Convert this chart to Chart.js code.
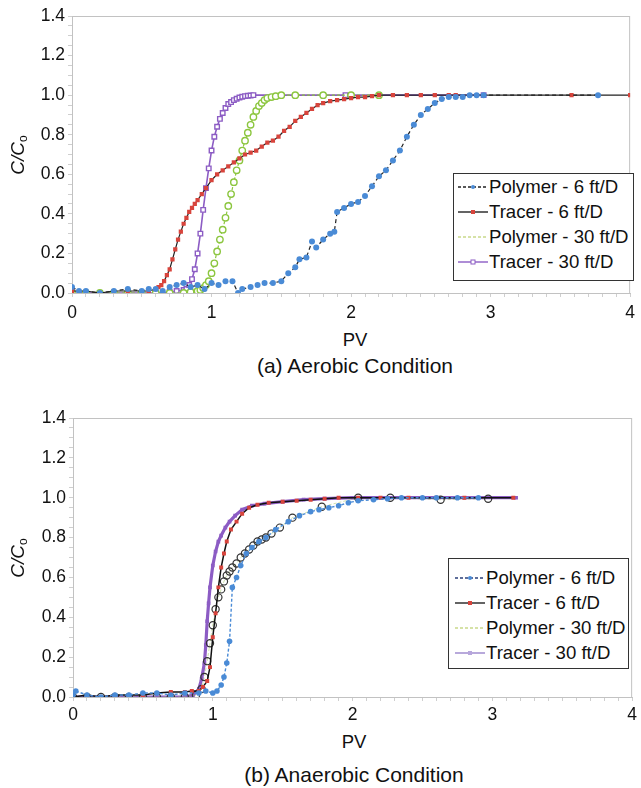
<!DOCTYPE html>
<html>
<head>
<meta charset="utf-8">
<script src="https://cdn.jsdelivr.net/npm/chart.js@4.4.0/dist/chart.umd.min.js"></script>
<style>
body { margin: 0; width: 641px; height: 788px; background: #fff; position: relative; overflow: hidden;
       font-family: "Liberation Sans", Arial, sans-serif; color: #111; }
canvas { position: absolute; left: 0; }
.txt { position: absolute; transform: translate(-50%, -50%); white-space: nowrap; }
.ytitle { position: absolute; transform: translate(-50%, -50%) rotate(-90deg); white-space: nowrap; font-size: 19px; font-style: italic; }
.ytitle sub { font-style: normal; font-size: 12px; vertical-align: -3px; }
.legend { position: absolute; border: 1.5px solid #333; background: #fff; font-size: 18.6px; box-sizing: border-box; }
.legend .row { height: 25px; display: flex; align-items: center; }
.legend svg { flex: none; margin-right: 1px; }
</style>
</head>
<body>
<canvas id="c1" width="641" height="325" style="top:0"></canvas>
<canvas id="c2" width="641" height="330" style="top:400px"></canvas>

<div class="ytitle" style="left:18px;top:155px">C/C<sub>o</sub></div>
<div class="txt" style="left:355px;top:340px;font-size:18.5px">PV</div>
<div class="txt" style="left:355px;top:366px;font-size:21px">(a) Aerobic Condition</div>
<div class="legend" id="leg1" style="left:453px;top:173px;width:181px;height:108px;padding:0 0 0 4px"></div>

<div class="ytitle" style="left:18px;top:558px">C/C<sub>o</sub></div>
<div class="txt" style="left:354px;top:742px;font-size:18.5px">PV</div>
<div class="txt" style="left:354px;top:775px;font-size:21px">(b) Anaerobic Condition</div>
<div class="legend" id="leg2" style="left:448px;top:558px;width:181px;height:111px;padding:6px 0 0 6px"></div>

<script>
// etiquetas y ejes
const seriesLabels = ['Polymer - 6 ft/D', 'Tracer - 6 ft/D', 'Polymer - 30 ft/D', 'Tracer - 30 ft/D'];
const xTickLabels = [0, 1, 2, 3, 4];
const yTickLabels = [0, 0.2, 0.4, 0.6, 0.8, 1.0, 1.2, 1.4];

// (a) aerobico
const aerPoly6X = [0, 0.05, 0.1, 0.2, 0.3, 0.4, 0.5, 0.55, 0.6, 0.65, 0.7, 0.75, 0.8, 0.85, 0.9, 0.95, 1.0, 1.05, 1.1, 1.15, 1.19, 1.22, 1.28, 1.33, 1.38, 1.44, 1.5, 1.55, 1.6, 1.63, 1.68, 1.72, 1.75, 1.8, 1.85, 1.88, 1.9, 1.95, 2.0, 2.05, 2.1, 2.15, 2.2, 2.25, 2.3, 2.35, 2.4, 2.45, 2.5, 2.55, 2.6, 2.65, 2.7, 2.75, 2.8, 2.85, 2.9, 2.95, 3.77];
const aerPoly6Y = [0.03, 0.01, 0.01, 0.0, 0.01, 0.02, 0.01, 0.02, 0.02, 0.01, 0.03, 0.04, 0.05, 0.03, 0.04, 0.02, 0.05, 0.04, 0.06, 0.06, 0.0, 0.02, 0.03, 0.04, 0.05, 0.05, 0.06, 0.1, 0.13, 0.17, 0.18, 0.26, 0.23, 0.27, 0.3, 0.31, 0.41, 0.43, 0.45, 0.46, 0.49, 0.54, 0.59, 0.62, 0.67, 0.72, 0.79, 0.85, 0.9, 0.93, 0.96, 0.98, 0.99, 0.99, 0.99, 1.0, 1.0, 1.0, 1.0];

const aerTrac6X = [0, 0.1, 0.2, 0.3, 0.4, 0.5, 0.55, 0.6, 0.62, 0.64, 0.66, 0.68, 0.7, 0.72, 0.74, 0.76, 0.78, 0.8, 0.82, 0.84, 0.86, 0.88, 0.9, 0.93, 0.96, 1.0, 1.04, 1.08, 1.12, 1.16, 1.2, 1.24, 1.28, 1.32, 1.36, 1.4, 1.44, 1.48, 1.52, 1.56, 1.6, 1.64, 1.68, 1.72, 1.76, 1.8, 1.85, 1.9, 1.95, 2.0, 2.05, 2.1, 2.15, 2.2, 2.3, 2.4, 2.5, 2.6, 2.7, 2.75, 3.58, 4.0];
const aerTrac6Y = [0.01, 0.01, 0.0, 0.01, 0.01, 0.01, 0.01, 0.02, 0.03, 0.04, 0.06, 0.09, 0.12, 0.17, 0.22, 0.27, 0.31, 0.35, 0.38, 0.41, 0.43, 0.45, 0.47, 0.5, 0.53, 0.57, 0.6, 0.62, 0.64, 0.66, 0.68, 0.7, 0.71, 0.72, 0.74, 0.76, 0.77, 0.79, 0.82, 0.84, 0.87, 0.89, 0.91, 0.93, 0.95, 0.96, 0.97, 0.975, 0.98, 0.985, 0.99, 0.99, 0.995, 1.0, 1.0, 1.0, 1.0, 1.0, 1.0, 1.0, 1.0, 1.0];

const aerPoly30X = [0, 0.1, 0.2, 0.3, 0.4, 0.5, 0.6, 0.7, 0.8, 0.85, 0.9, 0.92, 0.94, 0.96, 0.98, 1.0, 1.02, 1.04, 1.06, 1.08, 1.1, 1.12, 1.14, 1.16, 1.18, 1.2, 1.22, 1.24, 1.26, 1.28, 1.3, 1.32, 1.34, 1.36, 1.38, 1.4, 1.43, 1.46, 1.5, 1.6, 1.8, 2.0, 2.2];
const aerPoly30Y = [0.0, 0.0, 0.0, 0.0, 0.0, 0.0, 0.0, 0.0, 0.0, 0.005, 0.01, 0.015, 0.025, 0.04, 0.06, 0.1, 0.15, 0.21, 0.27, 0.32, 0.38, 0.44, 0.5, 0.56, 0.62, 0.67, 0.72, 0.77, 0.81, 0.85, 0.89, 0.92, 0.945, 0.96, 0.975, 0.985, 0.99, 0.995, 1.0, 1.0, 1.0, 1.0, 1.0];

const aerTrac30X = [0, 0.1, 0.2, 0.3, 0.4, 0.5, 0.6, 0.7, 0.75, 0.8, 0.82, 0.84, 0.86, 0.88, 0.9, 0.92, 0.94, 0.96, 0.98, 1.0, 1.02, 1.04, 1.06, 1.08, 1.1, 1.12, 1.14, 1.16, 1.18, 1.2, 1.22, 1.24, 1.26, 1.28, 1.3, 1.96, 2.95];
const aerTrac30Y = [0.01, 0.0, 0.0, 0.0, 0.0, 0.0, 0.0, 0.005, 0.01, 0.015, 0.02, 0.04, 0.07, 0.12, 0.2, 0.3, 0.42, 0.53, 0.63, 0.72, 0.79, 0.84, 0.88, 0.91, 0.935, 0.955, 0.965, 0.975, 0.982, 0.988, 0.992, 0.995, 0.997, 0.998, 1.0, 1.0, 1.0];

// (b) anaerobico
const anaPoly6X = [0, 0.02, 0.1, 0.2, 0.3, 0.4, 0.5, 0.6, 0.7, 0.8, 0.9, 0.95, 1.0, 1.03, 1.06, 1.08, 1.1, 1.12, 1.14, 1.17, 1.2, 1.24, 1.28, 1.33, 1.38, 1.45, 1.54, 1.62, 1.7, 1.76, 1.83, 1.9, 1.97, 2.04, 2.15, 2.25, 2.35, 2.5, 2.6, 2.75, 2.9];
const anaPoly6Y = [0.01, 0.03, 0.01, 0.0, 0.01, 0.01, 0.02, 0.02, 0.01, 0.02, 0.02, 0.03, 0.02, 0.03, 0.06, 0.1, 0.17, 0.28, 0.55, 0.6, 0.66, 0.72, 0.75, 0.78, 0.8, 0.84, 0.88, 0.91, 0.93, 0.94, 0.95, 0.96, 0.975, 0.985, 0.99, 0.995, 1.0, 1.0, 1.0, 1.0, 1.0];

const anaTrac6X = [0, 0.1, 0.2, 0.3, 0.4, 0.5, 0.6, 0.7, 0.8, 0.85, 0.9, 0.93, 0.96, 0.98, 1.0, 1.02, 1.04, 1.06, 1.08, 1.1, 1.13, 1.17, 1.21, 1.26, 1.32, 1.4, 1.5, 1.6, 1.7, 1.8, 1.9, 2.04, 2.2, 2.4, 2.6, 2.8, 3.15];
const anaTrac6Y = [0.0, 0.01, 0.0, 0.01, 0.01, 0.01, 0.02, 0.025, 0.025, 0.03, 0.03, 0.05, 0.08, 0.15, 0.3, 0.42, 0.55, 0.65, 0.72, 0.78, 0.84, 0.88, 0.92, 0.95, 0.965, 0.975, 0.98, 0.985, 0.99, 0.995, 1.0, 1.0, 1.0, 1.0, 1.0, 1.0, 1.0];

const anaPoly30X = [0, 0.1, 0.2, 0.3, 0.4, 0.5, 0.6, 0.7, 0.8, 0.88, 0.92, 0.94, 0.96, 0.98, 1.0, 1.02, 1.04, 1.06, 1.08, 1.1, 1.12, 1.14, 1.17, 1.2, 1.23, 1.26, 1.29, 1.32, 1.35, 1.38, 1.42, 1.48, 1.57, 1.78, 2.04, 2.27, 2.63, 2.97];
const anaPoly30Y = [0.0, 0.0, 0.0, 0.0, 0.0, 0.0, 0.0, 0.0, 0.0, 0.01, 0.04, 0.1, 0.18, 0.27, 0.36, 0.44, 0.5, 0.54, 0.58, 0.61, 0.63, 0.65, 0.67, 0.7, 0.72, 0.74, 0.76, 0.78, 0.79, 0.8, 0.82, 0.85, 0.9, 0.955, 1.0, 1.0, 0.99, 0.995];

const anaTrac30X = [0, 0.1, 0.2, 0.3, 0.4, 0.5, 0.6, 0.7, 0.8, 0.86, 0.9, 0.92, 0.94, 0.95, 0.96, 0.97, 0.98, 1.0, 1.02, 1.04, 1.06, 1.09, 1.12, 1.16, 1.21, 1.28, 1.37, 1.5, 1.65, 1.8, 2.0, 2.2, 2.5, 2.8, 3.17];
const anaTrac30Y = [0.0, 0.0, 0.0, 0.0, 0.0, 0.0, 0.0, 0.0, 0.0, 0.01, 0.04, 0.09, 0.17, 0.26, 0.38, 0.47, 0.55, 0.66, 0.73, 0.78, 0.81, 0.85, 0.88, 0.91, 0.94, 0.96, 0.97, 0.98, 0.99, 0.995, 1.0, 1.0, 1.0, 1.0, 1.0];

// colores
const azul = '#4a8bd6', rojo = '#d8443c', verde = '#8cc63f', morado = '#8c5cc4';

function pts(xs, ys) { return xs.map((x, i) => ({ x: x, y: ys[i] })); }

// marco gris alrededor del area
const marco = {
    id: 'marco',
    beforeDatasetsDraw(chart) {
        const a = chart.chartArea, ctx = chart.ctx;
        ctx.save();
        ctx.strokeStyle = '#c2c2c2';
        ctx.lineWidth = 1;
        ctx.strokeRect(a.left + 0.5, a.top + 0.5, a.right - a.left - 1, a.bottom - a.top);
        ctx.restore();
    }
};

function opciones(pad, xh, yw, tickPad) {
    const fuente = { family: '"Liberation Sans", Arial, sans-serif', size: 17.5 };
    return {
        responsive: false,
        animation: false,
        layout: { padding: pad },
        plugins: { legend: { display: false }, tooltip: { enabled: false } },
        scales: {
            x: {
                type: 'linear', min: 0, max: 4,
                afterFit: s => { s.height = xh; },
                border: { color: '#c2c2c2' },
                grid: { drawOnChartArea: false, tickLength: 4, tickColor: '#cfcfcf' },
                ticks: {
                    stepSize: 0.1, autoSkip: false, maxRotation: 0, padding: tickPad, color: '#111', font: fuente,
                    callback: v => xTickLabels.some(t => Math.abs(t - v) < 1e-6) ? String(Math.round(v)) : ''
                }
            },
            y: {
                type: 'linear', min: 0, max: 1.4,
                afterFit: s => { s.width = yw; },
                border: { color: '#c2c2c2' },
                grid: { drawOnChartArea: false, tickLength: 4, tickColor: '#cfcfcf' },
                ticks: {
                    stepSize: 0.05, autoSkip: false, padding: 3, color: '#111', font: fuente,
                    callback: v => yTickLabels.some(t => Math.abs(t - v) < 1e-6) ? v.toFixed(1) : ''
                }
            }
        }
    };
}

// grafico (a)
new Chart(document.getElementById('c1'), {
    type: 'scatter',
    data: {
        datasets: [
            { label: seriesLabels[0], data: pts(aerPoly6X, aerPoly6Y), showLine: true, borderColor: '#222', borderWidth: 1.2, borderDash: [4, 3],
              pointStyle: 'circle', pointRadius: 3, pointBackgroundColor: azul, pointBorderColor: azul, pointBorderWidth: 0 },
            { label: seriesLabels[1], data: pts(aerTrac6X, aerTrac6Y), showLine: true, borderColor: '#222', borderWidth: 1.2,
              pointStyle: 'rect', pointRadius: 3, pointBackgroundColor: rojo, pointBorderColor: rojo, pointBorderWidth: 0 },
            { label: seriesLabels[2], data: pts(aerPoly30X, aerPoly30Y), showLine: true, borderColor: verde, borderWidth: 1.2, borderDash: [3, 2],
              pointStyle: 'circle', pointRadius: 3.2, pointBackgroundColor: '#fff', pointBorderColor: verde, pointBorderWidth: 1.4 },
            { label: seriesLabels[3], data: pts(aerTrac30X, aerTrac30Y), showLine: true, borderColor: morado, borderWidth: 1.6,
              pointStyle: 'rect', pointRadius: 3.2, pointBackgroundColor: '#fff', pointBorderColor: morado, pointBorderWidth: 1.4 }
        ]
    },
    options: opciones({ top: 16, right: 3, left: 0, bottom: 0 }, 32, 72, 6),
    plugins: [marco]
});

// grafico (b)
new Chart(document.getElementById('c2'), {
    type: 'scatter',
    data: {
        datasets: [
            { label: seriesLabels[0], data: pts(anaPoly6X, anaPoly6Y), showLine: true, borderColor: azul, borderWidth: 1.4, borderDash: [3, 2],
              pointStyle: 'circle', pointRadius: 2.8, pointBackgroundColor: azul, pointBorderColor: azul, pointBorderWidth: 0 },
            { label: seriesLabels[1], data: pts(anaTrac6X, anaTrac6Y), showLine: true, borderColor: '#111', borderWidth: 1.5,
              pointStyle: 'rect', pointRadius: 2.8, pointBackgroundColor: rojo, pointBorderColor: rojo, pointBorderWidth: 0 },
            { label: seriesLabels[2], data: pts(anaPoly30X, anaPoly30Y), showLine: true, borderColor: 'rgba(160,200,90,0.5)', borderWidth: 1, borderDash: [3, 2],
              pointStyle: 'circle', pointRadius: 3.6, pointBackgroundColor: 'rgba(255,255,255,0)', pointBorderColor: '#333', pointBorderWidth: 1.2 },
            { label: seriesLabels[3], data: pts(anaTrac30X, anaTrac30Y), showLine: true, borderColor: morado, borderWidth: 3.2,
              pointStyle: 'rect', pointRadius: 2.6, pointBackgroundColor: morado, pointBorderColor: morado, pointBorderWidth: 0 }
        ]
    },
    options: opciones({ top: 18, right: 6, left: 0, bottom: 0 }, 33, 73, 4),
    plugins: [marco]
});

// leyendas
function leyenda(id, items) {
    document.getElementById(id).innerHTML = items.map((it, i) => {
        const dash = it.dash ? ` stroke-dasharray="${it.dash}"` : '';
        let m = '';
        if (it.marker === 'circle') m = `<circle cx="15" cy="5" r="2" fill="${it.mc}"/>`;
        if (it.marker === 'rect') m = `<rect x="13" y="3" width="4" height="4" fill="${it.mc}"/>`;
        if (it.marker === 'openrect') m = `<rect x="13" y="3" width="4" height="4" fill="#fff" stroke="${it.mc}" stroke-width="1"/>`;
        return `<div class="row"><svg width="30" height="10"><line x1="0" y1="5" x2="30" y2="5" stroke="${it.lc}" stroke-width="1.4"${dash}/>${m}</svg><span>${seriesLabels[i]}</span></div>`;
    }).join('');
}
leyenda('leg1', [
    { lc: '#222', dash: '3,2', marker: 'circle', mc: azul },
    { lc: '#222', marker: 'rect', mc: rojo },
    { lc: '#c9d98a', dash: '3,2' },
    { lc: morado, marker: 'openrect', mc: morado }
]);
leyenda('leg2', [
    { lc: '#2a3f7a', dash: '3,2', marker: 'circle', mc: azul },
    { lc: '#222', marker: 'rect', mc: rojo },
    { lc: '#c9d98a', dash: '3,2' },
    { lc: '#9a84cc', marker: 'rect', mc: '#b7a6dc' }
]);
</script>
</body>
</html>
